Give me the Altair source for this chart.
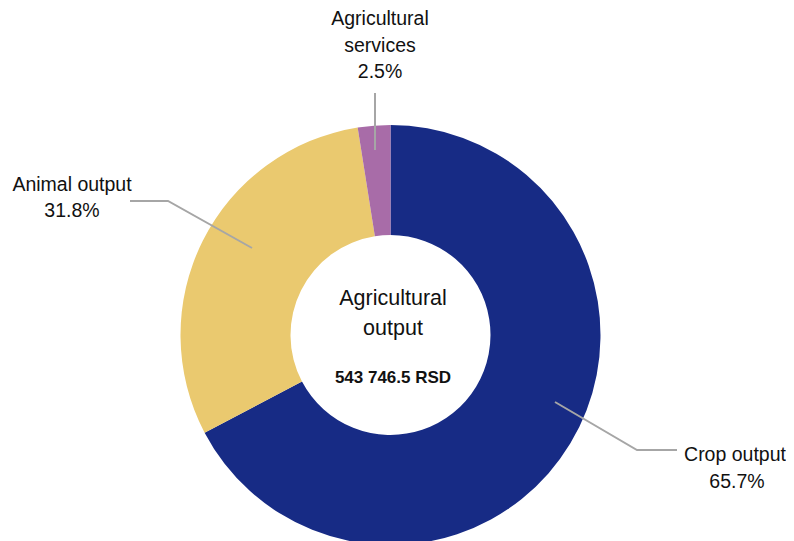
import altair as alt
import pandas as pd

# ---- data ----
categories = ["Crop output", "Animal output", "Agricultural services"]
# slice sizes as drawn in the picture (percent of the ring)
drawn_shares = [67.3, 30.2, 2.5]
# percentages printed in the labels
label_pct = ["65.7%", "31.8%", "2.5%"]
colors = ["#172B85", "#EAC96F", "#A86CA8"]
center_title = ["Agricultural", "output"]
center_total = "543 746.5  RSD"

FONT = "Liberation Sans, Arial, sans-serif"
W, H = 778, 533
CX, CY = 382.5, 327
R_OUT, R_IN = 210, 100

pie = pd.DataFrame({"category": categories, "share": drawn_shares, "order": range(len(categories))})

arc = alt.Chart(pie).mark_arc(outerRadius=R_OUT, innerRadius=R_IN, stroke=None).encode(
    theta=alt.Theta("share:Q", stack=True),
    order=alt.Order("order:Q"),
    color=alt.Color("category:N", scale=alt.Scale(domain=categories, range=colors), legend=None),
    x=alt.value(CX),
    y=alt.value(CY),
)

# ---- annotation layout (pixel positions of leader lines and labels) ----
leaders = pd.DataFrame({
    "id": [0, 0, 0, 1, 1, 1, 2, 2],
    "k": [0, 1, 2, 0, 1, 2, 0, 1],
    "px": [547, 629, 669, 244, 160, 122, 367, 367],
    "py": [394, 442, 442, 240, 193, 193, 142, 85],
})
xs = alt.Scale(domain=[0, W], range=[0, W])
ys = alt.Scale(domain=[0, H], range=[0, H])

lines = alt.Chart(leaders).mark_line(color="#A6A6A6", strokeWidth=2).encode(
    x=alt.X("px:Q", scale=xs, axis=None),
    y=alt.Y("py:Q", scale=ys, axis=None),
    detail="id:N",
    order="k:Q",
)

label_rows = pd.DataFrame({
    "txt": ["Crop output", label_pct[0], "Animal output", label_pct[1],
            "Agricultural", "services", label_pct[2]],
    "px": [727, 729, 64, 64, 372, 372, 372],
    "py": [447, 474, 177, 203, 11, 38, 64],
})
labels = alt.Chart(label_rows).mark_text(font=FONT, fontSize=19.5, color="#111111",
                                         align="center", baseline="middle").encode(
    x=alt.X("px:Q", scale=xs, axis=None),
    y=alt.Y("py:Q", scale=ys, axis=None),
    text="txt:N",
)

center_rows = pd.DataFrame({"txt": center_title, "px": [385, 385], "py": [291, 321]})
center = alt.Chart(center_rows).mark_text(font=FONT, fontSize=21.5, color="#111111",
                                          align="center", baseline="middle").encode(
    x=alt.X("px:Q", scale=xs, axis=None),
    y=alt.Y("py:Q", scale=ys, axis=None),
    text="txt:N",
)
total_rows = pd.DataFrame({"txt": [center_total], "px": [385], "py": [370]})
total = alt.Chart(total_rows).mark_text(font=FONT, fontSize=17, fontWeight="bold", color="#111111",
                                        align="center", baseline="middle").encode(
    x=alt.X("px:Q", scale=xs, axis=None),
    y=alt.Y("py:Q", scale=ys, axis=None),
    text="txt:N",
)

chart = alt.layer(arc, lines, labels, center, total).properties(
    width=W, height=H, autosize=alt.AutoSizeParams(type="none"), padding=0
).configure_view(stroke=None)

chart.save("out.html", embed_options={"renderer": "svg", "actions": False})
